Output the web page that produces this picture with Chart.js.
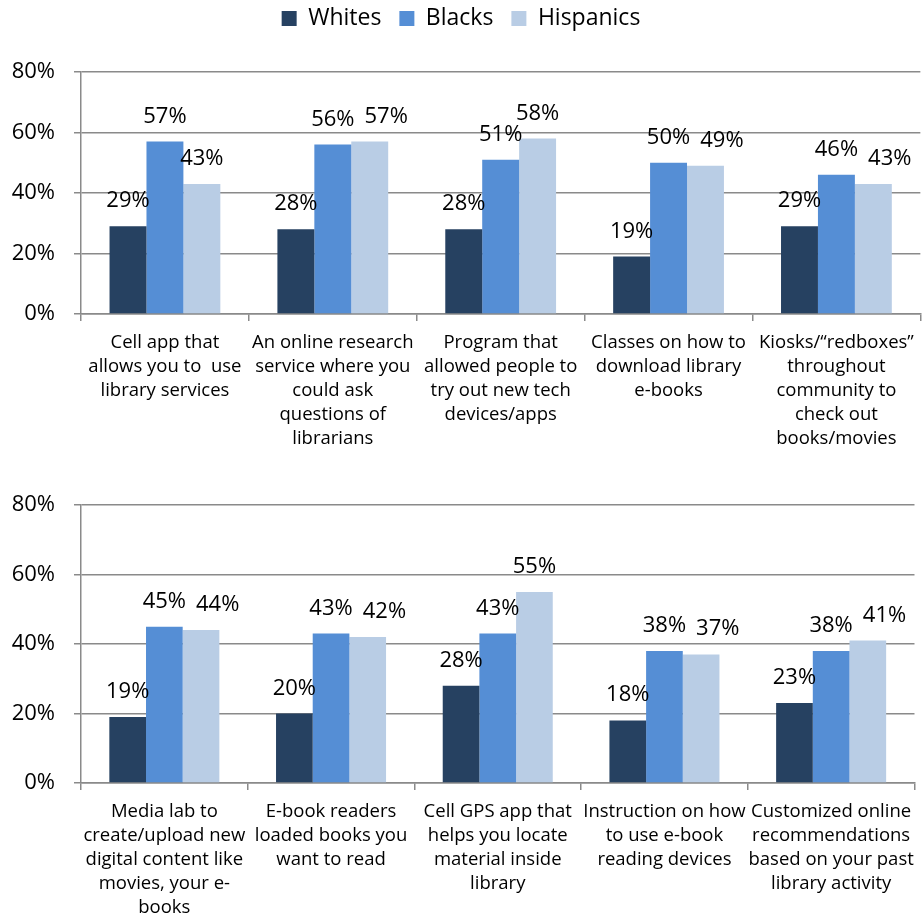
<!DOCTYPE html>
<html>
<head>
<meta charset="utf-8">
<script src="https://cdn.jsdelivr.net/npm/chart.js@4.4.0/dist/chart.umd.min.js"></script>
<style>
  html, body { margin: 0; padding: 0; background: #fff; }
  .box { position: absolute; left: 0; width: 924px; }
  #top-box { top: 0; height: 470px; }
  #bottom-box { top: 470px; height: 454px; }
</style>
</head>
<body>
<div class="box" id="top-box"><canvas id="chart-top"></canvas></div>
<div class="box" id="bottom-box"><canvas id="chart-bottom"></canvas></div>
<script>
const SERIES_NAMES = ['Whites', 'Blacks', 'Hispanics'];
const SERIES_COLORS = ['#264161', '#558ed5', '#b9cde5'];

const topLabels = [
  ['Cell app that', 'allows you to  use', 'library services'],
  ['An online research', 'service where you', 'could ask', 'questions of', 'librarians'],
  ['Program that', 'allowed people to', 'try out new tech', 'devices/apps'],
  ['Classes on how to', 'download library', 'e-books'],
  ['Kiosks/\u201credboxes\u201d', 'throughout', 'community to', 'check out', 'books/movies'],
];
const topWhites = [29, 28, 28, 19, 29];
const topBlacks = [57, 56, 51, 50, 46];
const topHispanics = [43, 57, 58, 49, 43];

const bottomLabels = [
  ['Media lab to', 'create/upload new', 'digital content like', 'movies, your e-', 'books'],
  ['E-book readers', 'loaded books you', 'want to read'],
  ['Cell GPS app that', 'helps you locate', 'material inside', 'library'],
  ['Instruction on how', 'to use e-book', 'reading devices'],
  ['Customized online', 'recommendations', 'based on your past', 'library activity'],
];
const bottomWhites = [19, 20, 28, 18, 23];
const bottomBlacks = [45, 43, 43, 38, 38];
const bottomHispanics = [44, 42, 55, 37, 41];

const yTicks = [0, 20, 40, 60, 80];

const FONT = '"Open Sans", Lato, sans-serif';
const GRID = '#8a8a8a';

// value labels above each bar; a label that would collide with the one
// to its left gets nudged to the right, like the spreadsheet original does
const barValueLabels = {
  id: 'barValueLabels',
  afterDatasetsDraw(chart) {
    const ctx = chart.ctx;
    const textH = 17, gap = 10;
    ctx.save();
    ctx.font = '22px ' + FONT;
    ctx.fillStyle = '#000';
    ctx.textAlign = 'left';
    ctx.textBaseline = 'alphabetic';
    const n = chart.data.labels.length;
    for (let j = 0; j < n; j++) {
      let prev = null;
      chart.data.datasets.forEach((ds, i) => {
        const bar = chart.getDatasetMeta(i).data[j];
        const text = ds.data[j] + '%';
        const w = ctx.measureText(text).width;
        const base = bar.y - 19;
        let left = bar.x - w / 2;
        if (prev && Math.abs(prev.base - base) < textH && left < prev.right + gap) {
          left = prev.right + gap;
        }
        ctx.fillText(text, left, base);
        prev = { base, right: left + w };
      });
    }
    ctx.restore();
  },
};

// extra space under the legend
const legendGap = {
  id: 'legendGap',
  afterInit(chart) {
    if (!chart.legend) return;
    const fit = chart.legend.fit;
    chart.legend.fit = function () {
      fit.bind(chart.legend)();
      this.height += 32;
    };
  },
};

function buildChart(canvasId, labels, whites, blacks, hispanics, opts) {
  const values = [whites, blacks, hispanics];
  return new Chart(document.getElementById(canvasId), {
    type: 'bar',
    data: {
      labels,
      datasets: SERIES_NAMES.map((name, i) => ({
        label: name,
        data: values[i],
        backgroundColor: SERIES_COLORS[i],
        borderWidth: 0,
        categoryPercentage: 0.66,
        barPercentage: 1.0,
      })),
    },
    options: {
      responsive: true,
      maintainAspectRatio: false,
      animation: false,
      layout: { padding: { top: opts.padTop, right: 2, left: 0, bottom: 0 } },
      plugins: {
        tooltip: { enabled: false },
        legend: {
          display: opts.legend,
          position: 'top',
          labels: {
            color: '#000',
            font: { family: FONT, size: 23 },
            boxWidth: 15,
            boxHeight: 15,
            padding: 18,
          },
        },
      },
      scales: {
        x: {
          offset: true,
          grid: {
            offset: true,
            drawOnChartArea: false,
            drawTicks: true,
            tickLength: 7,
            color: GRID,
            lineWidth: 1.5,
          },
          border: { display: true, color: GRID, width: 1.5 },
          ticks: {
            color: '#000',
            font: { family: FONT, size: 18.5, lineHeight: '24px' },
            maxRotation: 0,
            minRotation: 0,
            autoSkip: false,
            padding: 10,
          },
          afterFit: s => { s.height = opts.xHeight; },
        },
        y: {
          min: 0,
          max: 80,
          afterBuildTicks: s => { s.ticks = yTicks.map(v => ({ value: v })); },
          grid: { color: GRID, lineWidth: 1.5, tickLength: 7 },
          border: { display: true, color: GRID, width: 1.5 },
          ticks: {
            color: '#000',
            font: { family: FONT, size: 22 },
            padding: 19,
            callback: v => v + '%',
          },
          afterFit: s => { s.width = 81; },
        },
      },
    },
    plugins: [barValueLabels, legendGap],
  });
}

buildChart('chart-top', topLabels, topWhites, topBlacks, topHispanics,
  { legend: true, padTop: -11, xHeight: 156 });
buildChart('chart-bottom', bottomLabels, bottomWhites, bottomBlacks, bottomHispanics,
  { legend: false, padTop: 3, xHeight: 141 });
</script>
</body>
</html>
